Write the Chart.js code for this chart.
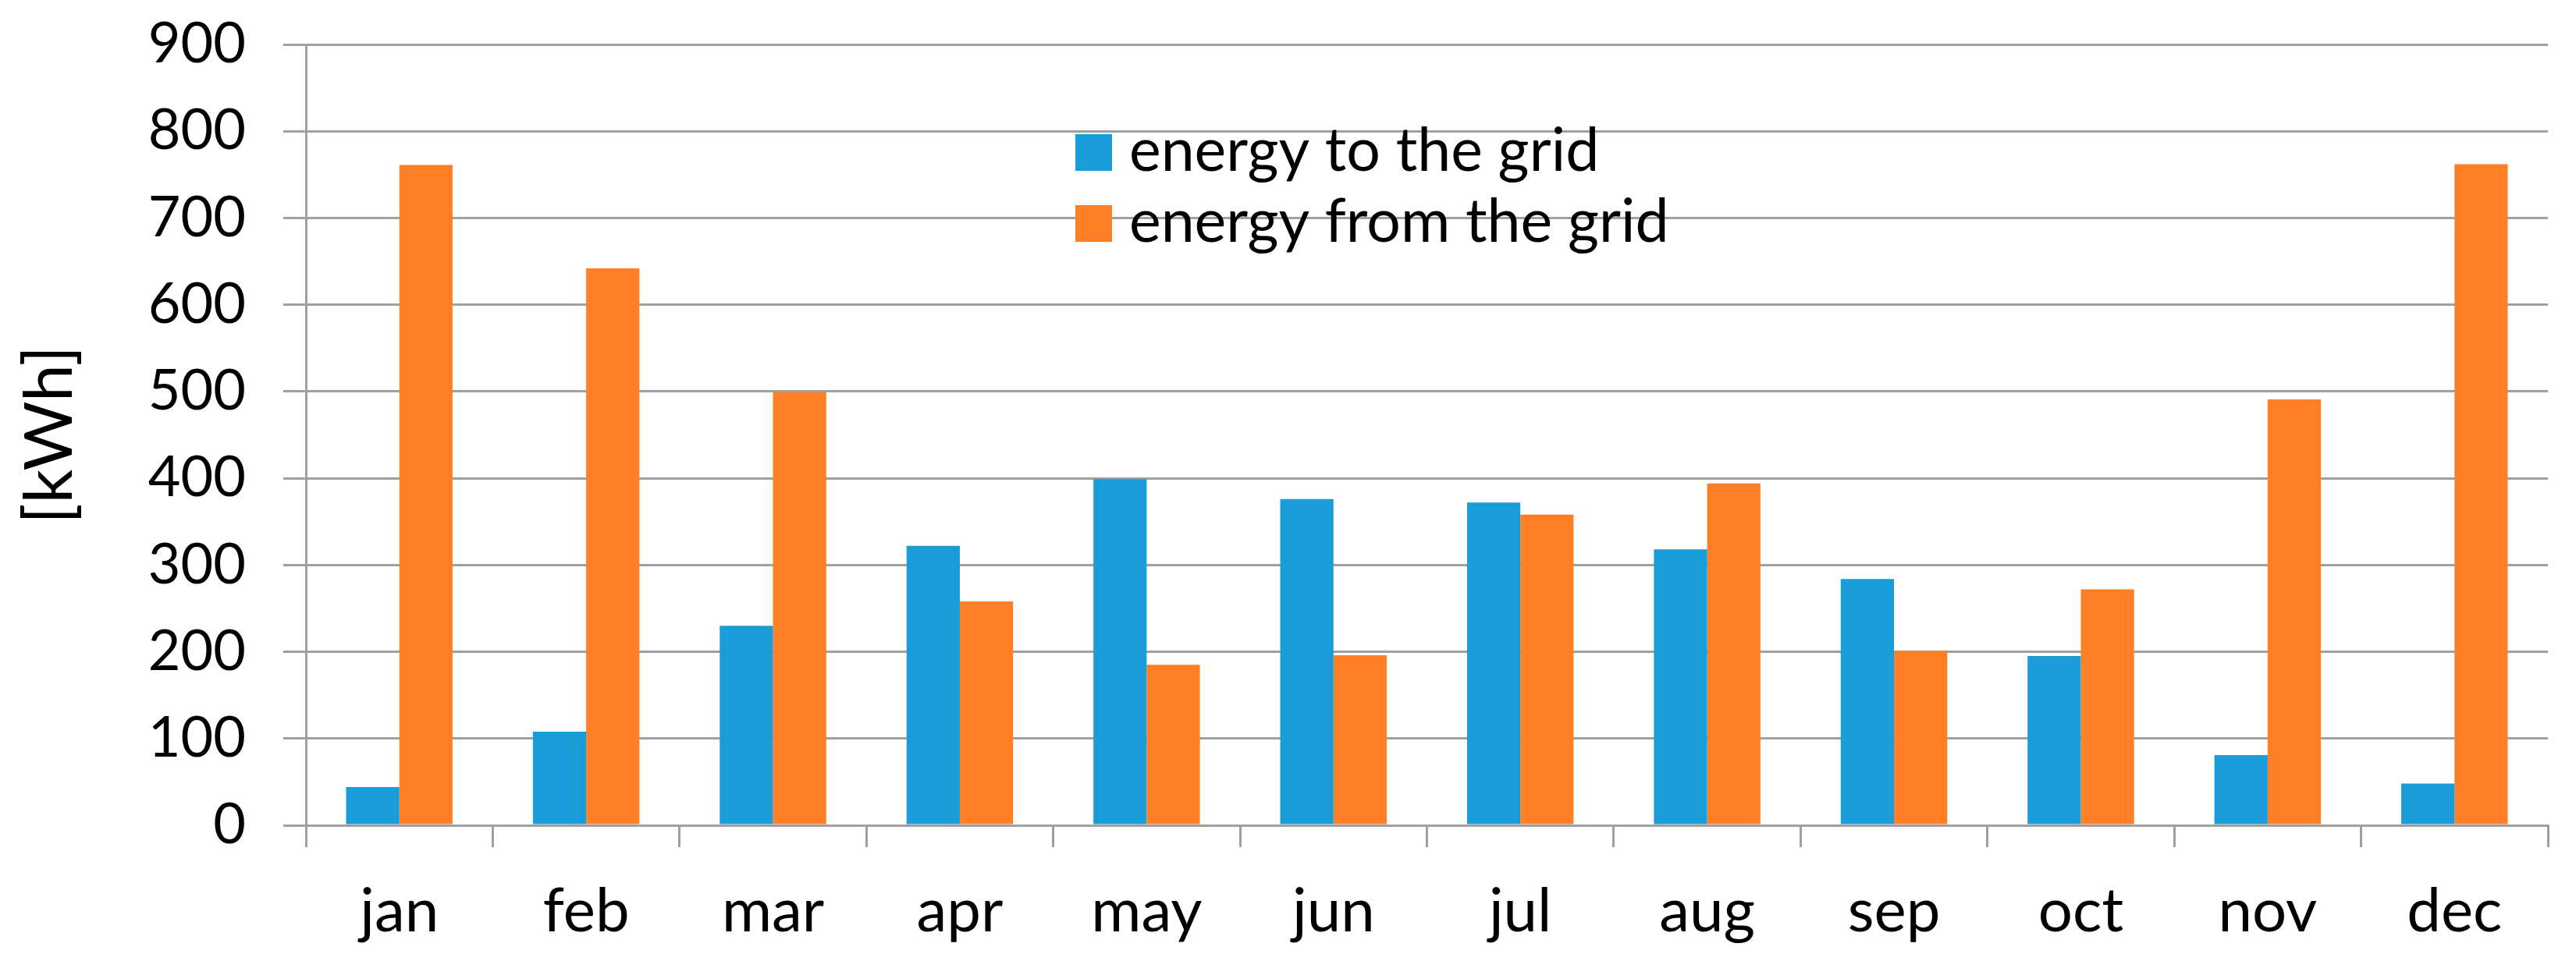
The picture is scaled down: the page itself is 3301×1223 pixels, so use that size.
<!DOCTYPE html>
<html>
<head>
<meta charset="utf-8">
<script src="https://cdn.jsdelivr.net/npm/chart.js@4.4.1/dist/chart.umd.min.js"></script>
<style>
  html, body { margin: 0; padding: 0; background: #ffffff; }
  #wrap { width: 3301px; height: 1223px; }
</style>
</head>
<body>
<div id="wrap"><canvas id="c" width="3301" height="1223"></canvas></div>
<script>
// ---- data ----
const categories = ['jan', 'feb', 'mar', 'apr', 'may', 'jun', 'jul', 'aug', 'sep', 'oct', 'nov', 'dec'];
const energyToGrid = [44, 108, 230, 322, 399, 376, 372, 318, 284, 195, 81, 48];
const energyFromGrid = [761, 642, 499, 258, 185, 196, 358, 394, 201, 272, 491, 762];
const seriesLabels = ['energy to the grid', 'energy from the grid'];
const yTickValues = [0, 100, 200, 300, 400, 500, 600, 700, 800, 900];
const yAxisTitle = '[kWh]';

const seriesColors = ['#1a9cd8', '#fe7f24'];
const gridColor = '#a0a0a0';
const FONT = 'Lato';

const insideLegend = {
  id: 'insideLegend',
  afterDraw(chart) {
    const { ctx, chartArea } = chart;
    const x0 = chartArea.left + 986;
    const y0 = chartArea.top + 115;
    const box = 47, rowGap = 91, gap = 22;
    ctx.save();
    ctx.font = '77px ' + FONT;
    ctx.textBaseline = 'alphabetic';
    ctx.textAlign = 'left';
    chart.data.datasets.forEach((ds, i) => {
      const y = y0 + i * rowGap;
      ctx.fillStyle = ds.backgroundColor;
      ctx.fillRect(x0, y, box, box);
      ctx.fillStyle = '#000000';
      ctx.fillText(ds.label, x0 + box + gap, y + box);
    });
    ctx.restore();
  }
};

function start() {
  new Chart(document.getElementById('c'), {
    type: 'bar',
    data: {
      labels: categories,
      datasets: [
        { label: seriesLabels[0], data: energyToGrid, backgroundColor: seriesColors[0], borderWidth: 0,
          barPercentage: 1.0, categoryPercentage: 0.57 },
        { label: seriesLabels[1], data: energyFromGrid, backgroundColor: seriesColors[1], borderWidth: 0,
          barPercentage: 1.0, categoryPercentage: 0.57 }
      ]
    },
    options: {
      responsive: false,
      maintainAspectRatio: false,
      devicePixelRatio: 1,
      animation: false,
      layout: { padding: { left: 0, right: 36, top: 57, bottom: 0 } },
      plugins: {
        legend: { display: false },
        tooltip: { enabled: false },
        title: { display: false }
      },
      scales: {
        x: {
          type: 'category',
          offset: true,
          grid: {
            offset: true,
            drawOnChartArea: false,
            drawTicks: true,
            tickLength: 28,
            color: gridColor,
            lineWidth: 3
          },
          border: { display: true, color: gridColor, width: 3 },
          ticks: {
            color: '#000000',
            font: { family: FONT, size: 78 },
            padding: 36,
            maxRotation: 0,
            autoSkip: false
          },
          afterFit(scale) { scale.height = 165; }
        },
        y: {
          type: 'linear',
          min: 0,
          max: 900,
          afterBuildTicks(scale) { scale.ticks = yTickValues.map(v => ({ value: v })); },
          grid: {
            drawTicks: true,
            tickLength: 29,
            color: gridColor,
            lineWidth: 3
          },
          border: { display: true, color: gridColor, width: 3 },
          ticks: {
            color: '#000000',
            font: { family: FONT, size: 72 },
            padding: 48
          },
          title: {
            display: true,
            text: yAxisTitle,
            color: '#000000',
            font: { family: FONT, size: 86, weight: 'normal' },
            padding: { top: 13, bottom: 0 }
          },
          afterFit(scale) {
            scale.width = 392;
            scale.paddingTop = 30;
            scale.paddingBottom = 30;
          }
        }
      }
    },
    plugins: [insideLegend]
  });
}

if (document.fonts && document.fonts.load) {
  Promise.all([
    document.fonts.load('72px ' + FONT),
    document.fonts.load('77px ' + FONT)
  ]).then(start, start);
} else {
  start();
}
</script>
</body>
</html>
